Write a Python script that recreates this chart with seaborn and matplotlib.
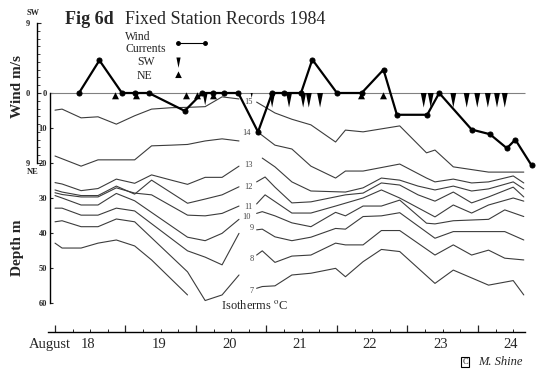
import numpy as np
import matplotlib
matplotlib.use("Agg")
from matplotlib import pyplot as plt
from matplotlib.lines import Line2D
import seaborn as sns

nan = np.nan

# sample times (days of August 1984), 6-hourly casts
left_times = [18.00, 18.10, 18.37, 18.61, 18.87, 19.13, 19.37, 19.65, 19.88, 20.13, 20.37, 20.61]
right_times = [20.86, 20.94, 20.98, 21.12, 21.36, 21.63, 21.98, 22.12, 22.37, 22.63,
               22.89, 23.15, 23.27, 23.39, 23.65, 23.91, 24.15, 24.38, 24.50, 24.65]

# isotherm depths (m), first part of the record
iso15_left = [4.9, 4.6, 7.1, 6.8, 8.9, 6.5, 4.6, 4.2, 4.1, 3.9, 1.1, 1.7]
iso14_left = [18.0, nan, 20.9, 19.1, 19.1, 19.1, 15.1, 14.9, 14.7, 13.7, 13.1, 13.7]
iso13_left = [25.6, 26.0, 27.9, 27.3, 24.6, 25.8, 23.4, 24.9, 26.1, 24.1, 24.1, 20.9]
iso12_left = [27.7, 28.3, 29.3, 29.3, 26.6, 28.9, 24.9, nan, 31.5, 30.3, 29.1, 26.8]
iso11_left = [28.5, 29.0, 29.7, 29.7, 27.1, 28.6, 29.1, nan, 34.9, 35.1, 34.4, 32.3]
iso10_left = [29.3, 30.0, 32.0, 32.0, 28.7, 30.8, nan, nan, 41.2, 42.2, 40.1, 36.1]
iso9_left = [32.9, 32.9, 34.9, 34.9, 32.9, 33.7, nan, nan, 45.1, 46.9, 49.1, 40.1]
iso8_left = [36.8, 36.5, 38.2, 38.2, 36.0, 36.8, nan, nan, 51.1, 59.3, 57.7, 52.0]
iso7_left = [42.9, 44.3, 44.3, 42.9, 42.0, 43.7, 47.7, nan, 57.7, nan, nan, nan]

# isotherm depths (m), second part of the record
iso15_right = [2.6, nan, nan, 5.7, 7.5, 9.1, 14.0, 10.6, 11.1, nan, 9.4, nan, 17.1, 16.3, 21.1, nan, 22.6, nan, nan, 22.6]
iso14_right = [10.9, nan, nan, 14.9, 16.0, 20.9, 24.3, 22.3, 22.3, nan, 20.3, nan, 24.3, 25.4, 24.6, 25.7, 25.4, nan, 23.7, 25.7]
iso13_right = [nan, 18.6, nan, 21.1, 25.4, 28.0, nan, 28.3, 27.1, 24.3, 24.9, 26.6, nan, 27.7, 26.6, 28.0, 27.4, nan, 25.4, 27.4]
iso12_right = [25.4, nan, 24.0, 26.9, 31.4, 31.1, nan, 29.1, 28.6, 25.7, 26.3, 29.1, nan, 30.9, 28.3, 31.4, 29.7, nan, 26.9, 29.7]
iso11_right = [31.7, nan, 29.1, nan, 34.3, 34.3, 32.3, nan, 30.0, 27.7, 30.0, nan, nan, 35.4, 32.0, 34.3, 32.0, nan, 30.0, 30.9]
iso10_right = [34.4, 33.9, nan, 35.1, 37.1, 38.2, 34.1, 35.1, 32.3, 32.3, 30.6, nan, 37.2, 37.4, 36.5, nan, 36.1, 33.4, nan, 35.3]
iso9_right = [39.1, 38.9, nan, 41.1, 42.2, 41.2, 38.7, 38.9, 35.3, 35.1, 34.2, nan, nan, 41.5, 39.6, nan, nan, 39.6, nan, 42.0]
iso8_right = [46.3, 45.1, nan, 48.4, 46.6, 46.3, 42.9, 43.4, 43.4, 39.3, 39.3, nan, nan, 46.3, 43.4, 46.3, 44.9, 47.2, nan, 47.7]
iso7_right = [55.8, 55.3, nan, 55.1, 52.0, 51.5, 50.1, 52.5, 48.2, 44.7, 45.3, nan, nan, 54.4, 50.6, nan, 54.9, nan, 53.6, 57.7]

iso_temps = [15, 14, 13, 12, 11, 10, 9, 8, 7]
iso_label_t = [20.74, 20.71, 20.74, 20.74, 20.74, 20.72, 20.79, 20.79, 20.79]
iso_label_d = [2.5, 11.4, 20.6, 26.8, 32.5, 35.3, 38.6, 47.4, 56.5]

# wind (m/s, + = SW, - = NE)
wind_t = [18.34, 18.63, 18.95, 19.13, 19.33, 19.84, 20.09, 20.24, 20.40, 20.60, 20.88, 21.08, 21.25,
          21.49, 21.65, 22.00, 22.35, 22.66, 22.85, 23.28, 23.45, 23.91, 24.17, 24.41, 24.53, 24.76]
wind_ms = [0, 4.2, 0, 0, 0, -2.3, 0, 0, 0, 0, -5.0, 0, 0,
           0, 4.3, 0, 0, 3.0, -2.8, -2.8, 0, -4.7, -5.3, -7.1, -6.0, -9.3]

# currents
sw_t = [20.13, 20.79, 21.08, 21.32, 21.52, 21.60, 21.76, 23.23, 23.33, 23.65, 23.84, 23.99, 24.14, 24.27, 24.38]
sw_size = [0.85, 0.35, 1, 1, 1, 1, 1, 1, 1, 1, 1, 1, 1, 1, 1]
ne_t = [18.85, 19.15, 19.86, 20.01, 20.24, 22.34, 22.65]

days = [18, 19, 20, 21, 22, 23, 24]

sns.set_style("white")
plt.rcParams["font.family"] = ["Liberation Serif", "DejaVu Serif"]
plt.rcParams["mathtext.fontset"] = "stix"

fig = plt.figure(figsize=(5.4, 3.83), dpi=100)
ax = fig.add_axes([50 / 540, 51 / 383, 485 / 540, 312 / 383])
ax.set_xlim(17.929, 24.809)
ax.set_ylim(68.29, -20.86)

iso_col = "#3c3c3c"
lefts = [iso15_left, iso14_left, iso13_left, iso12_left, iso11_left, iso10_left, iso9_left, iso8_left, iso7_left]
rights = [iso15_right, iso14_right, iso13_right, iso12_right, iso11_right, iso10_right, iso9_right, iso8_right, iso7_right]
for times, group in [(left_times, lefts), (right_times, rights)]:
    for depths in group:
        t = np.array(times)
        d = np.array(depths, dtype=float)
        ok = ~np.isnan(d)
        sns.lineplot(x=t[ok], y=d[ok], ax=ax, color=iso_col, lw=0.8,
                     estimator=None, sort=False)

for temp, t, d in zip(iso_temps, iso_label_t, iso_label_d):
    ax.text(t, d, str(temp), fontsize=6, color="#444444", ha="center", va="center")

ax.text(20.35, 60.6, "Isotherms $^{\\mathrm{o}}$C", fontsize=9, ha="left", va="center")

ax.hlines(0, 17.9, 24.67, color="#808080", lw=0.8)

for s in ["top", "right"]:
    ax.spines[s].set_visible(False)
ax.spines["left"].set_bounds(0, 60)
ax.spines["bottom"].set_bounds(17.9, 24.67)
for s in ["left", "bottom"]:
    ax.spines[s].set_linewidth(1.0)
    ax.spines[s].set_color("black")
ax.set_yticks(range(0, 61, 10))
ax.set_yticklabels([str(v) for v in range(0, 61, 10)], fontweight="bold")
ax.tick_params(axis="y", direction="in", length=2, pad=2, labelsize=6, left=True)
ax.set_xticks(days)
ax.set_xticklabels([])
ax.set_xticks(np.arange(18, 24.6, 0.25), minor=True)
ax.tick_params(axis="x", which="major", direction="in", length=5, width=0.9, bottom=True)
ax.tick_params(axis="x", which="minor", direction="in", length=2.5, width=0.7, bottom=True)
ax.set_xlabel("")
ax.set_ylabel("")

xt = ax.get_xaxis_transform()
for d in days:
    ax.text(d + 0.47, -0.0385, str(d), transform=xt, ha="center", va="center", fontsize=10.5)
ax.text(18.22, -0.0385, "August", transform=xt, ha="right", va="center", fontsize=10.5)

# wind axis
axw = ax.twinx()
axw.set_ylim(-30.73, 9.386)
for s in ["top", "right", "bottom"]:
    axw.spines[s].set_visible(False)
axw.spines["left"].set_visible(True)
axw.spines["left"].set_color("black")
axw.spines["left"].set_linewidth(1.0)
axw.spines["left"].set_position(("outward", 9.4))
axw.spines["left"].set_bounds(-9, 9)
axw.yaxis.tick_left()
axw.set_yticks([-9, 0, 9])
axw.set_yticklabels(["9", "0", "9"], fontweight="bold")
axw.set_yticks(np.arange(-9, 10, 1), minor=True)
axw.tick_params(axis="y", which="major", direction="in", length=3, pad=5, labelsize=6, left=True)
axw.tick_params(axis="y", which="minor", direction="in", length=2, left=True)

sns.lineplot(x=wind_t, y=wind_ms, ax=axw, color="black", lw=1.6, marker="o",
             markersize=3.6, markeredgecolor="black", estimator=None, sort=False)
axw.set_ylabel("")

sw_marker = [(-0.2, 0), (0.2, 0), (0, -1)]
ne_marker = [(0, 0.2), (-0.6, -1), (0.6, -1)]
axw.scatter(sw_t, np.zeros(len(sw_t)), s=[440 * v ** 2 for v in sw_size],
            marker=sw_marker, color="black", linewidths=0, zorder=3)
axw.scatter(ne_t, np.zeros(len(ne_t)), s=70, marker=ne_marker, color="black",
            linewidths=0, zorder=3)

# titles and labels
fig.text(65 / 540, 1 - 24 / 383, "Fig 6d", fontsize=13, fontweight="bold", va="baseline")
fig.text(125 / 540, 1 - 24 / 383, "Fixed Station Records 1984", fontsize=13, va="baseline")
fig.text(17.5 / 540, 1 - 87 / 383, "Wind m/s", rotation=90, fontsize=11, fontweight="bold",
         ha="center", va="center")
fig.text(17.5 / 540, 1 - 248 / 383, "Depth m", rotation=90, fontsize=11, fontweight="bold",
         ha="center", va="center")
fig.text(33 / 540, 1 - 13 / 383, "SW", fontsize=6, fontweight="bold", ha="center", va="center")
fig.text(33 / 540, 1 - 172 / 383, "NE", fontsize=6, fontweight="bold", ha="center", va="center")

# key
fig.text(125 / 540, 1 - 37.5 / 383, "Wind", fontsize=8.5, va="center")
fig.text(125 / 540, 1 - 49 / 383, "Currents", fontsize=8.5, va="center")
fig.text(137 / 540, 1 - 62 / 383, "SW", fontsize=8.5, va="center")
fig.text(137 / 540, 1 - 76 / 383, "NE", fontsize=8.5, va="center")
fig.add_artist(Line2D([178 / 540, 205 / 540], [1 - 43 / 383, 1 - 43 / 383], transform=fig.transFigure,
                      color="black", lw=0.8, marker="o", markersize=2.5))
fig.add_artist(Line2D([178 / 540], [1 - 57 / 383], transform=fig.transFigure, color="black",
                      lw=0, marker=sw_marker, markersize=15, markeredgewidth=0))
fig.add_artist(Line2D([178 / 540], [1 - 72 / 383], transform=fig.transFigure, color="black",
                      lw=0, marker=ne_marker, markersize=8, markeredgewidth=0))

# signature
fig.text(465 / 540, 1 - 362 / 383, "C", fontsize=6, ha="center", va="center",
         bbox=dict(boxstyle="square,pad=0.15", fc="white", ec="black", lw=0.8))
fig.text(500 / 540, 1 - 362 / 383, "M. Shine", fontsize=9, style="italic", ha="center", va="center")

fig.savefig("out.png", dpi=100)
